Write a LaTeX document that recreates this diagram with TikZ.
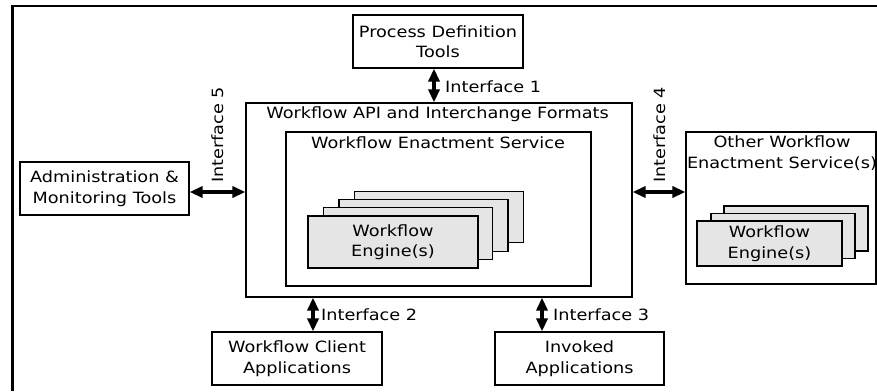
\documentclass[tikz,border=0pt]{standalone}
\usepackage{fontspec}
\setmainfont{DejaVu Sans}[FakeStretch=1.14]
\usetikzlibrary{arrows.meta}
\newcommand{\lblfont}{\fontsize{15.5}{20.5}\selectfont}
\tikzset{
  box/.style={draw, line width=1.2pt, fill=white, align=center, font=\lblfont, inner sep=0pt},
  engbox/.style={draw, line width=1.2pt, fill=black!10, align=center, font=\lblfont, inner sep=0pt},
  iface/.style={{Triangle[length=13pt,width=11pt]}-{Triangle[length=13pt,width=11pt]}, line width=3.5pt},
  lbl/.style={font=\lblfont, inner sep=0pt},
}
\begin{document}
\begin{tikzpicture}[x=1pt,y=-1pt]
\useasboundingbox (0,0) rectangle (877,391);
% frame
\draw[line width=2.5pt] (877,6) -- (12.5,6) -- (12.5,391);

% central boxes
\node[box, minimum width=386, minimum height=194] (api) at (439,200) {};
\node[lbl] (apit) at (437.5,114) {Workflow API and Interchange Formats};
\node[box, minimum width=305, minimum height=154] (wes) at (438.5,209) {};
\node[lbl] (west) at (438,143) {Workflow Enactment Service};

% engine stack
\node[engbox, minimum width=169, minimum height=51] (e4) at (438.8,217.3) {};
\node[engbox, minimum width=169, minimum height=52] (e3) at (423.5,225.2) {};
\node[engbox, minimum width=169, minimum height=52] (e2) at (408.2,233.6) {};
\node[engbox, minimum width=170, minimum height=52] (e1) at (393,242) {Workflow\\Engine(s)};

% other enactment service
\node[box, minimum width=190, minimum height=152] (oth) at (781,208) {};
\node[lbl, align=center] (otht) at (782,153) {Other Workflow\\Enactment Service(s)};
\node[engbox, minimum width=144, minimum height=45] (o3) at (796,228.5) {};
\node[engbox, minimum width=144, minimum height=45] (o2) at (783,236) {};
\node[engbox, minimum width=145, minimum height=45] (o1) at (769.5,243.5) {Workflow\\Engine(s)};

% outer tools
\node[box, minimum width=170, minimum height=53] (pdt) at (438,41.5) {Process Definition\\Tools};
\node[box, minimum width=169, minimum height=53] (adm) at (104.5,188.5) {Administration \&\\Monitoring Tools};
\node[box, minimum width=170, minimum height=53] (cli) at (297,358.5) {Workflow Client\\Applications};
\node[box, minimum width=169, minimum height=53] (inv) at (579.5,358.5) {Invoked\\Applications};

% interface connectors
\coordinate (a1) at (434,0);
\coordinate (a2) at (313,0);
\coordinate (a3) at (542,0);
\coordinate (a45) at (0,192);
\draw[iface] (pdt.south -| a1) -- (api.north -| a1);
\draw[iface] (adm.east |- a45) -- (api.west |- a45);
\draw[iface] (api.east |- a45) -- (oth.west |- a45);
\draw[iface] (api.south -| a2) -- (cli.north -| a2);
\draw[iface] (api.south -| a3) -- (inv.north -| a3);

\node[lbl, anchor=west] (i1) at (445,87) {Interface 1};
\node[lbl, anchor=west] (i2) at (321,315) {Interface 2};
\node[lbl, anchor=west] (i3) at (553,315) {Interface 3};
\node[lbl, rotate=90] (i5) at (218,135) {Interface 5};
\node[lbl, rotate=90] (i4) at (660,135) {Interface 4};
\end{tikzpicture}
\end{document}
